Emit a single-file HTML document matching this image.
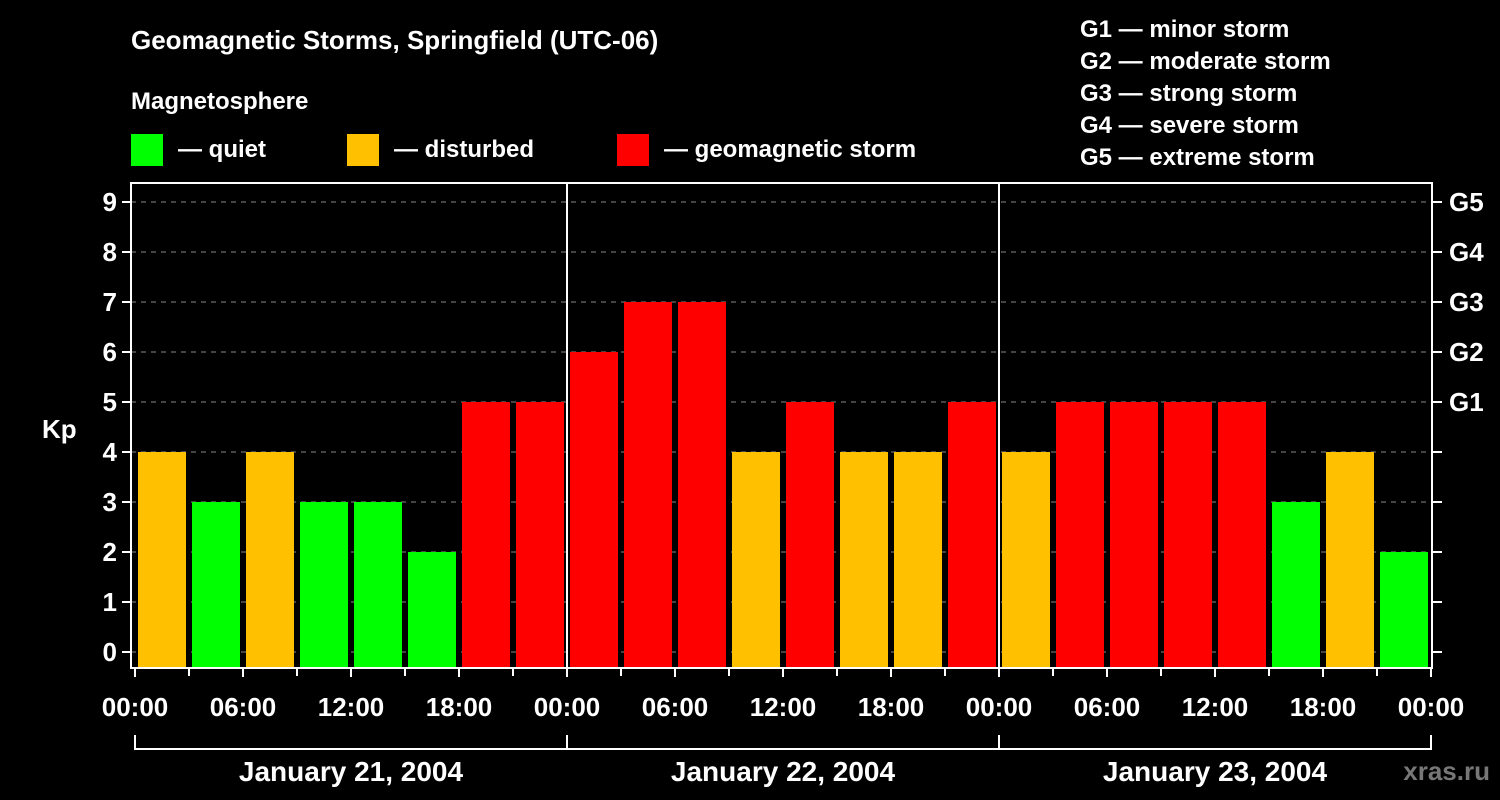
<!DOCTYPE html>
<html><head><meta charset="utf-8"><style>
body{margin:0;background:#000;}
svg{display:block;font-family:"Liberation Sans",sans-serif;font-weight:bold;}
</style></head><body>
<svg id="c" width="1500" height="800">
<rect width="1500" height="800" fill="#000"/>
<text x="131" y="49" fill="#fff" font-size="26">Geomagnetic Storms, Springfield (UTC-06)</text>
<text x="131" y="109" fill="#fff" font-size="24">Magnetosphere</text>
<g><rect x="131" y="134" width="32" height="32" fill="#00ff00"/><text x="178" y="157" fill="#fff" font-size="24">— quiet</text></g>
<g><rect x="347" y="134" width="32" height="32" fill="#ffc000"/><text x="394" y="157" fill="#fff" font-size="24">— disturbed</text></g>
<g><rect x="617" y="134" width="32" height="32" fill="#ff0000"/><text x="664" y="157" fill="#fff" font-size="24">— geomagnetic storm</text></g>
<g fill="#fff" font-size="24">
<text x="1080" y="37">G1 — minor storm</text>
<text x="1080" y="69">G2 — moderate storm</text>
<text x="1080" y="101">G3 — strong storm</text>
<text x="1080" y="133">G4 — severe storm</text>
<text x="1080" y="165">G5 — extreme storm</text>
</g>
<text x="42" y="438" fill="#fff" font-size="26">Kp</text>
<text x="1490" y="780" fill="#777" font-size="26" text-anchor="end">xras.ru</text>
<g id="plot"></g>
</svg>
<script>
const kpValues=[4,3,4,3,3,2,5,5, 6,7,7,4,5,4,4,5, 4,5,5,5,5,3,4,2];
const yTicks=[0,1,2,3,4,5,6,7,8,9];
const gLabels=["G1","G2","G3","G4","G5"];
const timeLabels=["00:00","06:00","12:00","18:00","00:00","06:00","12:00","18:00","00:00","06:00","12:00","18:00","00:00"];
const dayLabels=["January 21, 2004","January 22, 2004","January 23, 2004"];
const NS="http://www.w3.org/2000/svg";
const g=document.getElementById('plot');
const X0=135,HOUR=18,Y0=652,UNIT=50,TOP=183,BOT=668,L=131,R=1432;
const xs=h=>X0+h*HOUR, ys=v=>Y0-v*UNIT;
function mk(t,a,txt){const e=document.createElementNS(NS,t);for(const k in a)e.setAttribute(k,a[k]);if(txt!==undefined)e.textContent=txt;g.appendChild(e);return e;}
yTicks.forEach(v=>{
 const l=mk('line',{x1:L,x2:R,y1:ys(v),y2:ys(v),stroke:'#888','stroke-width':1,'stroke-dasharray':'5,5'});
 
 
 const t=mk('line',{x1:L-9,x2:L,y1:ys(v),y2:ys(v),stroke:'#fff','stroke-width':2});
 
 
 const t2=mk('line',{x1:R,x2:R+10,y1:ys(v),y2:ys(v),stroke:'#fff','stroke-width':2});
 
 
 const tx=mk('text',{x:L-14,y:ys(v)+9,fill:'#fff','font-size':26,'text-anchor':'end'},String(v));
 
 
});
gLabels.forEach((s,i)=>{
 const tx=mk('text',{x:R+17,y:ys(5+i)+9,fill:'#fff','font-size':26},s);
 
 
});
kpValues.forEach((v,i)=>{
 const c=v>=5?'#ff0000':(v>=4?'#ffc000':'#00ff00');
 const b=mk('rect',{x:xs(i*3)+3,y:ys(v),width:3*HOUR-6,height:BOT-ys(v),fill:c});
 
 
});
for(let d=1;d<dayLabels.length;d++){
 const s=mk('line',{x1:xs(d*24),x2:xs(d*24),y1:TOP,y2:BOT,stroke:'#fff','stroke-width':2});
 
 
}
const f=mk('rect',{x:L,y:TOP,width:R-L,height:BOT-TOP,fill:'none',stroke:'#fff','stroke-width':2});


for(let h=0;h<=72;h+=3){
 const t=mk('line',{x1:xs(h),x2:xs(h),y1:BOT,y2:BOT+(h%6?8:9),stroke:'#fff','stroke-width':2});
 
 
}
timeLabels.forEach((s,i)=>{
 const tx=mk('text',{x:xs(i*6),y:716,fill:'#fff','font-size':26,'text-anchor':'middle'},s);
 
 
});
const br=mk('line',{x1:xs(0),x2:xs(72),y1:749,y2:749,stroke:'#fff','stroke-width':2});


for(let d=0;d<=dayLabels.length;d++){
 const t=mk('line',{x1:xs(d*24),x2:xs(d*24),y1:735,y2:750,stroke:'#fff','stroke-width':2});
 
 
}
dayLabels.forEach((s,d)=>{
 const tx=mk('text',{x:xs(d*24+12),y:781,fill:'#fff','font-size':28,'text-anchor':'middle'},s);
 
 
});
</script>
</body></html>
